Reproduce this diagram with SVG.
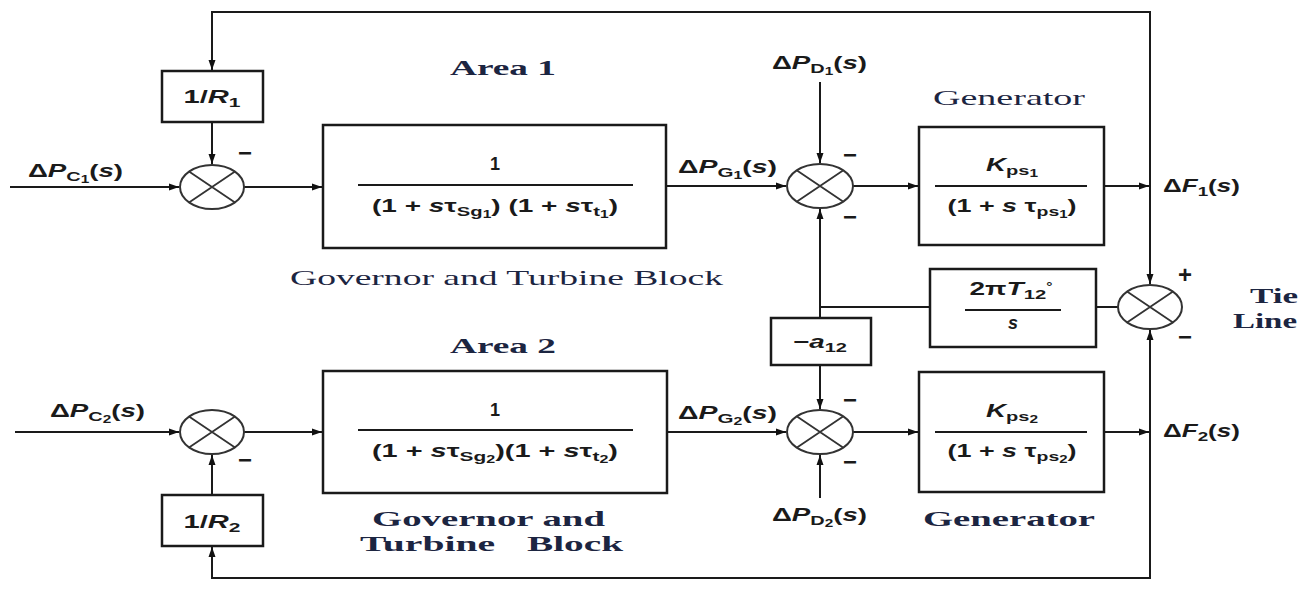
<svg xmlns="http://www.w3.org/2000/svg" width="1306" height="610" viewBox="0 0 1306 610">
<style>
.ln{fill:none;stroke:#1a1a1a;stroke-width:2}
.bx{fill:#fff;stroke:#1a1a1a;stroke-width:2.5}
.sj{fill:#fff;stroke:#333;stroke-width:2}
.sx{stroke:#333;stroke-width:1.8}
.m{font-family:"Liberation Sans",Arial,sans-serif;font-weight:bold;font-size:18px;fill:#1a1a1a}
.i{font-style:italic}
.lb{font-family:"Liberation Serif","Times New Roman",serif;font-size:21px;fill:#1c2541}
.b{font-weight:bold}
.sg{font-family:"Liberation Sans",Arial,sans-serif;font-weight:bold;font-size:24px;fill:#1a1a1a}
</style>
<defs>
<marker id="ah" markerUnits="userSpaceOnUse" markerWidth="11" markerHeight="8" refX="10" refY="4" orient="auto" viewBox="0 0 10 8"><path d="M0,0.5 L10,4 L0,7.5 Z" fill="#111"/></marker>
</defs>
<rect width="1306" height="610" fill="#fff"/>

<g id="connectors">
<path class="ln" d="M10,187 H179" marker-end="url(#ah)"/>
<path class="ln" d="M1150,186 V12 H212 V70" marker-end="url(#ah)"/>
<path class="ln" d="M212,122 V164" marker-end="url(#ah)"/>
<path class="ln" d="M244,187 H322" marker-end="url(#ah)"/>
<path class="ln" d="M666,186 H786" marker-end="url(#ah)"/>
<path class="ln" d="M820,82 V163" marker-end="url(#ah)"/>
<path class="ln" d="M853,186 H918" marker-end="url(#ah)"/>
<path class="ln" d="M1104,186 H1149" marker-end="url(#ah)"/>
<path class="ln" d="M1150,186 V284" marker-end="url(#ah)"/>
<path class="ln" d="M1118,307 H1096"/>
<path class="ln" d="M930,307 H820 V318"/>
<path class="ln" d="M820,307 V209" marker-end="url(#ah)"/>
<path class="ln" d="M820,365 V409" marker-end="url(#ah)"/>
<path class="ln" d="M15,432 H179" marker-end="url(#ah)"/>
<path class="ln" d="M244,432 H322" marker-end="url(#ah)"/>
<path class="ln" d="M667,432 H786" marker-end="url(#ah)"/>
<path class="ln" d="M820,498 V455" marker-end="url(#ah)"/>
<path class="ln" d="M853,432 H918" marker-end="url(#ah)"/>
<path class="ln" d="M1104,432 H1149" marker-end="url(#ah)"/>
<path class="ln" d="M1150,432 V330" marker-end="url(#ah)"/>
<path class="ln" d="M1150,432 V578 H212 V547" marker-end="url(#ah)"/>
<path class="ln" d="M212,495 V455" marker-end="url(#ah)"/>
</g>

<g id="labels">
<text class="lb b" x="503" y="75" text-anchor="middle" textLength="106" lengthAdjust="spacingAndGlyphs">Area 1</text>
<text class="lb" x="290" y="285" textLength="433" lengthAdjust="spacingAndGlyphs">Governor and Turbine Block</text>
<text class="lb" x="933" y="105" textLength="152" lengthAdjust="spacingAndGlyphs">Generator</text>
<text class="lb b" x="503" y="353" text-anchor="middle" textLength="106" lengthAdjust="spacingAndGlyphs">Area 2</text>
<text class="lb b" x="372" y="526" textLength="233" lengthAdjust="spacingAndGlyphs">Governor and</text>
<text class="lb b" x="360" y="551" textLength="135" lengthAdjust="spacingAndGlyphs">Turbine</text>
<text class="lb b" x="527" y="551" textLength="96" lengthAdjust="spacingAndGlyphs">Block</text>
<text class="lb b" x="923" y="526" textLength="172" lengthAdjust="spacingAndGlyphs">Generator</text>
<text class="lb b" x="1250" y="303" textLength="48" lengthAdjust="spacingAndGlyphs">Tie</text>
<text class="lb b" x="1233" y="328" textLength="64" lengthAdjust="spacingAndGlyphs">Line</text>
<text class="m" x="28" y="177" textLength="95" lengthAdjust="spacingAndGlyphs">Δ<tspan class="i">P</tspan><tspan font-size="13" dy="4">C</tspan><tspan font-size="10" dy="2">1</tspan><tspan dy="-6">(</tspan><tspan class="i">s</tspan>)</text>
<text class="m" x="50" y="417" textLength="95" lengthAdjust="spacingAndGlyphs">Δ<tspan class="i">P</tspan><tspan font-size="13" dy="4">C</tspan><tspan font-size="10" dy="2">2</tspan><tspan dy="-6">(</tspan><tspan class="i">s</tspan>)</text>
<text class="m" x="678" y="173" textLength="99" lengthAdjust="spacingAndGlyphs">Δ<tspan class="i">P</tspan><tspan font-size="13" dy="4">G</tspan><tspan font-size="10" dy="2">1</tspan><tspan dy="-6">(</tspan><tspan class="i">s</tspan>)</text>
<text class="m" x="678" y="419" textLength="99" lengthAdjust="spacingAndGlyphs">Δ<tspan class="i">P</tspan><tspan font-size="13" dy="4">G</tspan><tspan font-size="10" dy="2">2</tspan><tspan dy="-6">(</tspan><tspan class="i">s</tspan>)</text>
<text class="m" x="772" y="69" textLength="95" lengthAdjust="spacingAndGlyphs">Δ<tspan class="i">P</tspan><tspan font-size="13" dy="4">D</tspan><tspan font-size="10" dy="2">1</tspan><tspan dy="-6">(</tspan><tspan class="i">s</tspan>)</text>
<text class="m" x="772" y="521" textLength="95" lengthAdjust="spacingAndGlyphs">Δ<tspan class="i">P</tspan><tspan font-size="13" dy="4">D</tspan><tspan font-size="10" dy="2">2</tspan><tspan dy="-6">(</tspan><tspan class="i">s</tspan>)</text>
<text class="m" x="1163" y="192" textLength="77" lengthAdjust="spacingAndGlyphs">Δ<tspan class="i">F</tspan><tspan font-size="13" dy="4">1</tspan><tspan dy="-4">(</tspan><tspan class="i">s</tspan>)</text>
<text class="m" x="1163" y="437" textLength="77" lengthAdjust="spacingAndGlyphs">Δ<tspan class="i">F</tspan><tspan font-size="13" dy="4">2</tspan><tspan dy="-4">(</tspan><tspan class="i">s</tspan>)</text>
<text class="sg" x="245" y="161" text-anchor="middle">−</text>
<text class="sg" x="850" y="163" text-anchor="middle">−</text>
<text class="sg" x="850" y="225" text-anchor="middle">−</text>
<text class="sg" x="850" y="408" text-anchor="middle">−</text>
<text class="sg" x="850" y="470" text-anchor="middle">−</text>
<text class="sg" x="245" y="468" text-anchor="middle">−</text>
<text class="sg" x="1185" y="283" text-anchor="middle" font-size="20">+</text>
<text class="sg" x="1185" y="345" text-anchor="middle">−</text>
</g>

<g id="R1">
<rect class="bx" x="162" y="71" width="101" height="51"/>
<text class="m" x="212" y="103" text-anchor="middle" textLength="57" lengthAdjust="spacingAndGlyphs">1/<tspan class="i">R</tspan><tspan font-size="13" dy="4">1</tspan></text>
</g>
<g id="R2">
<rect class="bx" x="162" y="495" width="101" height="51"/>
<text class="m" x="212" y="528" text-anchor="middle" textLength="57" lengthAdjust="spacingAndGlyphs">1/<tspan class="i">R</tspan><tspan font-size="13" dy="4">2</tspan></text>
</g>

<g id="sum1">
<ellipse class="sj" cx="212" cy="187" rx="32" ry="22"/>
<path class="sx" d="M189,171.5 L235,202.5 M189,202.5 L235,171.5"/>
</g>
<g id="sum2">
<ellipse class="sj" cx="212" cy="432" rx="32" ry="22"/>
<path class="sx" d="M189,416.5 L235,447.5 M189,447.5 L235,416.5"/>
</g>
<g id="sumM1">
<ellipse class="sj" cx="820" cy="186" rx="33" ry="22"/>
<path class="sx" d="M797,170.5 L843,201.5 M797,201.5 L843,170.5"/>
</g>
<g id="sumM2">
<ellipse class="sj" cx="820" cy="432" rx="33" ry="22"/>
<path class="sx" d="M797,416.5 L843,447.5 M797,447.5 L843,416.5"/>
</g>
<g id="sumTie">
<ellipse class="sj" cx="1150" cy="307" rx="32" ry="22"/>
<path class="sx" d="M1127,291.5 L1173,322.5 M1127,322.5 L1173,291.5"/>
</g>

<g id="gov1">
<rect class="bx" x="323" y="125" width="343" height="123"/>
<text class="m" x="495" y="170" text-anchor="middle" font-size="20">1</text>
<line class="ln" x1="358" y1="185" x2="633" y2="185"/>
<text class="m" x="495" y="212" text-anchor="middle" textLength="246" lengthAdjust="spacingAndGlyphs">(1 + <tspan class="i">s</tspan>τ<tspan font-size="13" dy="4">Sg</tspan><tspan font-size="10" dy="2">1</tspan><tspan dy="-6">) (1 + </tspan><tspan class="i">s</tspan>τ<tspan font-size="13" dy="4">t</tspan><tspan font-size="10" dy="2">1</tspan><tspan dy="-6">)</tspan></text>
</g>
<g id="gov2">
<rect class="bx" x="323" y="371" width="344" height="122"/>
<text class="m" x="495" y="416" text-anchor="middle" font-size="20">1</text>
<line class="ln" x1="358" y1="430" x2="633" y2="430"/>
<text class="m" x="495" y="457" text-anchor="middle" textLength="246" lengthAdjust="spacingAndGlyphs">(1 + <tspan class="i">s</tspan>τ<tspan font-size="13" dy="4">Sg</tspan><tspan font-size="10" dy="2">2</tspan><tspan dy="-6">)(1 + </tspan><tspan class="i">s</tspan>τ<tspan font-size="13" dy="4">t</tspan><tspan font-size="10" dy="2">2</tspan><tspan dy="-6">)</tspan></text>
</g>

<g id="gen1">
<rect class="bx" x="919" y="127" width="185" height="118"/>
<text class="m" x="1012" y="171" text-anchor="middle" textLength="52" lengthAdjust="spacingAndGlyphs"><tspan class="i">K</tspan><tspan font-size="13" dy="4">ps</tspan><tspan font-size="10" dy="2">1</tspan></text>
<line class="ln" x1="935" y1="186" x2="1087" y2="186"/>
<text class="m" x="1012" y="212" text-anchor="middle" textLength="129" lengthAdjust="spacingAndGlyphs">(1 + <tspan class="i">s</tspan> τ<tspan font-size="13" dy="4">ps</tspan><tspan font-size="10" dy="2">1</tspan><tspan dy="-6">)</tspan></text>
</g>
<g id="gen2">
<rect class="bx" x="919" y="372" width="185" height="120"/>
<text class="m" x="1012" y="417" text-anchor="middle" textLength="52" lengthAdjust="spacingAndGlyphs"><tspan class="i">K</tspan><tspan font-size="13" dy="4">ps</tspan><tspan font-size="10" dy="2">2</tspan></text>
<line class="ln" x1="935" y1="432" x2="1087" y2="432"/>
<text class="m" x="1012" y="457" text-anchor="middle" textLength="129" lengthAdjust="spacingAndGlyphs">(1 + <tspan class="i">s</tspan> τ<tspan font-size="13" dy="4">ps</tspan><tspan font-size="10" dy="2">2</tspan><tspan dy="-6">)</tspan></text>
</g>

<g id="tie">
<rect class="bx" x="930" y="269" width="166" height="78"/>
<text class="m" x="1011" y="295" text-anchor="middle" textLength="83" lengthAdjust="spacingAndGlyphs">2π<tspan class="i">T</tspan><tspan font-size="13" dy="4">12</tspan><tspan font-size="10" dy="-9">°</tspan></text>
<line class="ln" x1="965" y1="310" x2="1061" y2="310"/>
<text class="m i" x="1013" y="329" text-anchor="middle">s</text>
</g>

<g id="a12">
<rect class="bx" x="771" y="318" width="100" height="47"/>
<text class="m" x="820" y="348" text-anchor="middle" textLength="54" lengthAdjust="spacingAndGlyphs">−<tspan class="i">a</tspan><tspan font-size="13" dy="4">12</tspan></text>
</g>
</svg>
